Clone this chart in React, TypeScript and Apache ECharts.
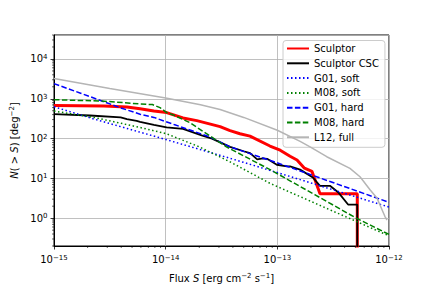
import React, { useEffect, useRef } from "react";
import * as echarts from "echarts";

const FONT = "DejaVu Sans";
const X_MIN = 1e-15;
const X_MAX = 1e-12;
const Y_MIN = 0.2;
const Y_MAX = 4e4;

const SERIES_NAMES = ["Sculptor", "Sculptor CSC", "G01, soft", "M08, soft", "G01, hard", "M08, hard", "L12, full"];

// Sculptor (red)
const sculptorS = [1e-15, 2.8e-15, 4.5e-15, 5.9e-15, 7.85e-15, 1.02e-14, 1.43e-14, 1.9e-14, 3.07e-14, 3.77e-14, 4.63e-14, 5.69e-14, 8.59e-14, 1.06e-13, 1.3e-13, 1.5e-13, 1.75e-13, 2.04e-13, 2.41e-13, 5.2e-13, 5.2e-13];
const sculptorN = [680, 660, 620, 560, 490, 450, 330, 282, 200, 158, 132, 115, 65, 51, 36, 29, 18, 15, 4.1, 4.1, 0.1];

// Sculptor CSC (black)
const cscS = [1e-15, 2.1e-15, 3.95e-15, 4.5e-15, 5.5e-15, 5.9e-15, 7.85e-15, 1.02e-14, 1.43e-14, 2.1e-14, 2.6e-14, 3.77e-14, 5.0e-14, 5.7e-14, 6.6e-14, 7.4e-14, 8.1e-14, 9.9e-14, 1.22e-13, 1.3e-13, 1.6e-13, 2.08e-13, 2.41e-13, 2.96e-13, 3.5e-13, 4.3e-13, 5.2e-13, 5.2e-13];
const cscN = [410, 380, 340, 310, 280, 263, 220, 190, 175, 120, 100, 62, 48, 43, 30, 32, 31, 22, 20, 20, 16.6, 10.5, 6.5, 6.5, 4.5, 2.2, 2.2, 0.1];

// G01, soft (blue dotted)
const g01SoftS = [1e-15, 2.28e-15, 5.2e-15, 1e-14, 3.77e-14, 1e-13, 1e-12];
const g01SoftN = [630, 310, 160, 95, 32, 14, 1.9];

// M08, soft (green dotted)
const m08SoftS = [1e-15, 2.28e-15, 5.9e-15, 1.02e-14, 2e-14, 3.77e-14, 8.6e-14, 1e-12];
const m08SoftN = [490, 340, 190, 132, 62, 26, 7.5, 0.36];

// G01, hard (blue dashed)
const g01HardS = [1e-15, 1.73e-15, 3.95e-15, 5.9e-15, 7.85e-15, 1.19e-14, 2.49e-14, 3.77e-14, 9.8e-14, 1e-12];
const g01HardN = [2400, 1380, 590, 410, 340, 225, 110, 62, 25, 2.5];

// M08, hard (green dashed)
const m08HardS = [1e-15, 2.8e-15, 5.9e-15, 7.6e-15, 8.9e-15, 1.02e-14, 1.19e-14, 1.65e-14, 3.5e-14, 8.6e-14, 2.2e-13, 5.1e-13, 1e-12];
const m08HardN = [950, 870, 740, 715, 600, 450, 385, 250, 62, 16.6, 3.8, 1.0, 0.39];

// L12, full (grey)
const l12S = [1e-15, 3.16e-15, 1e-14, 2.05e-14, 3.07e-14, 5e-14, 1e-13, 1.6e-13, 2e-13, 2.77e-13, 4.47e-13, 5.5e-13, 6.76e-13, 7.8e-13, 9.2e-13, 9.6e-13];
const l12N = [3240, 1820, 1050, 705, 535, 340, 162, 85, 60, 35, 17.8, 11, 5.2, 3.2, 1.1, 0.9];

// minor tick positions (log axes)
const MINOR_MULT = [2, 3, 4, 5, 6, 7, 8, 9];
const X_DECADES = [1e-15, 1e-14, 1e-13];
const Y_DECADES = [0.1, 1, 10, 100, 1000, 10000];

const zip = (a: number[], b: number[]) => a.map((v, i) => [v, b[i]]);

const supText = (e: number) => (e < 0 ? "\u2212" + -e : String(e));

const tickRich = {
  b: { fontFamily: FONT, fontSize: 10, lineHeight: 11, color: "#000" },
  s: { fontFamily: FONT, fontSize: 7, lineHeight: 6, verticalAlign: "top", color: "#000" },
};

const nameRich = {
  t: { fontFamily: FONT, fontSize: 10, lineHeight: 12, color: "#000" },
  i: { fontFamily: FONT, fontSize: 10, lineHeight: 12, fontStyle: "italic", color: "#000" },
  s: { fontFamily: FONT, fontSize: 7, lineHeight: 7, verticalAlign: "top", color: "#000" },
};

const powFormatter = (v: number) => {
  const e = Math.log10(v);
  const r = Math.round(e);
  if (Math.abs(e - r) > 1e-6) return "";
  return `{b|10}{s|${supText(r)}}`;
};

export default function App() {
  const ref = useRef<HTMLDivElement>(null);

  useEffect(() => {
    const chart = echarts.init(ref.current!, null, { renderer: "svg" });

    const xMinor: number[] = [];
    X_DECADES.forEach((d) => MINOR_MULT.forEach((m) => xMinor.push(m * d)));
    const yMinor: number[] = [];
    Y_DECADES.forEach((d) =>
      MINOR_MULT.forEach((m) => {
        const v = m * d;
        if (v >= Y_MIN * 0.999 && v <= Y_MAX * 1.001) yMinor.push(v);
      })
    );

    const lineSeries = (name: string, s: number[], n: number[], color: string, width: number, type: any, z: number) => ({
      type: "line",
      name,
      data: zip(s, n),
      symbol: "none",
      showSymbol: false,
      clip: true,
      z,
      lineStyle: { color, width, type, cap: "butt" },
      itemStyle: { color },
      emphasis: { disabled: true },
    });

    const DOT = [1.5, 2.5];
    const DASH = [5.5, 2.4];

    const option = {
      animation: false,
      textStyle: { fontFamily: FONT },
      grid: {
        left: 54,
        right: 43,
        top: 35,
        bottom: 36,
        show: true,
        borderColor: "#000",
        borderWidth: 1,
        backgroundColor: "transparent",
        containLabel: false,
      },
      legend: {
        data: SERIES_NAMES,
        orient: "vertical",
        left: 283,
        top: 40.5,
        padding: [2, 6, 4, 3],
        itemWidth: 22,
        itemHeight: 10,
        itemGap: 2.8,
        backgroundColor: "rgba(255,255,255,0.8)",
        borderColor: "#cccccc",
        borderWidth: 1,
        borderRadius: 3,
        selectedMode: false,
        itemStyle: { opacity: 0 },
        textStyle: { fontFamily: FONT, fontSize: 10, color: "#000", lineHeight: 12 },
      },
      xAxis: {
        type: "log",
        logBase: 10,
        min: X_MIN,
        max: X_MAX,
        name: "{t|Flux }{i|S}{t| [erg cm}{s|\u22122}{t| s}{s|\u22121}{t|]}",
        nameLocation: "middle",
        nameGap: 26,
        nameTextStyle: { rich: nameRich },
        axisLine: { show: true, onZero: false, lineStyle: { color: "#000", width: 1 } },
        axisTick: { show: true, inside: false, length: 3.5, lineStyle: { color: "#000", width: 0.8 } },
        minorTick: { show: false },
        splitLine: { show: true, lineStyle: { color: "#b0b0b0", width: 0.8 } },
        axisLabel: { formatter: powFormatter, rich: tickRich, margin: 8, color: "#000" },
      },
      yAxis: {
        type: "log",
        logBase: 10,
        min: Y_MIN,
        max: Y_MAX,
        name: "{i|N}{t|( > }{i|S}{t|) [deg}{s|\u22122}{t|]}",
        nameLocation: "middle",
        nameRotate: 90,
        nameGap: 31.5,
        nameTextStyle: { rich: nameRich },
        axisLine: { show: true, onZero: false, lineStyle: { color: "#000", width: 1 } },
        axisTick: { show: true, inside: false, length: 3.5, lineStyle: { color: "#000", width: 0.8 } },
        minorTick: { show: false },
        splitLine: { show: true, lineStyle: { color: "#b0b0b0", width: 0.8 } },
        axisLabel: {
          formatter: powFormatter,
          rich: tickRich,
          margin: 6.5,
          color: "#000",
          showMinLabel: false,
          showMaxLabel: false,
        },
      },
      series: [
        lineSeries(SERIES_NAMES[0], sculptorS, sculptorN, "#ff0000", 3, "solid", 2),
        lineSeries(SERIES_NAMES[1], cscS, cscN, "#000000", 1.8, "solid", 3),
        lineSeries(SERIES_NAMES[2], g01SoftS, g01SoftN, "#0000ff", 1.5, DOT, 4),
        lineSeries(SERIES_NAMES[3], m08SoftS, m08SoftN, "#008000", 1.5, DOT, 5),
        lineSeries(SERIES_NAMES[4], g01HardS, g01HardN, "#0000ff", 1.5, DASH, 6),
        lineSeries(SERIES_NAMES[5], m08HardS, m08HardN, "#008000", 1.5, DASH, 7),
        lineSeries(SERIES_NAMES[6], l12S, l12N, "#b5b5b5", 1.5, "solid", 8),
        {
          type: "custom",
          name: "xMinorTicks",
          coordinateSystem: "cartesian2d",
          clip: false,
          silent: true,
          z: 20,
          data: xMinor.map((v) => [v, Y_MIN]),
          renderItem: (_p: any, api: any) => {
            const p = api.coord([api.value(0), api.value(1)]);
            return {
              type: "line",
              shape: { x1: p[0], y1: p[1], x2: p[0], y2: p[1] + 2 },
              style: { stroke: "#000", lineWidth: 0.6 },
            };
          },
        },
        {
          type: "custom",
          name: "yMinorTicks",
          coordinateSystem: "cartesian2d",
          clip: false,
          silent: true,
          z: 20,
          data: yMinor.map((v) => [X_MIN, v]),
          renderItem: (_p: any, api: any) => {
            const p = api.coord([api.value(0), api.value(1)]);
            return {
              type: "line",
              shape: { x1: p[0] - 2, y1: p[1], x2: p[0], y2: p[1] },
              style: { stroke: "#000", lineWidth: 0.6 },
            };
          },
        },
      ],
    };

    chart.setOption(option as any);
    return () => chart.dispose();
  }, []);

  return (
    <div
      ref={ref}
      style={{ position: "fixed", left: 0, top: 0, width: 432, height: 288, background: "#fff" }}
    />
  );
}
